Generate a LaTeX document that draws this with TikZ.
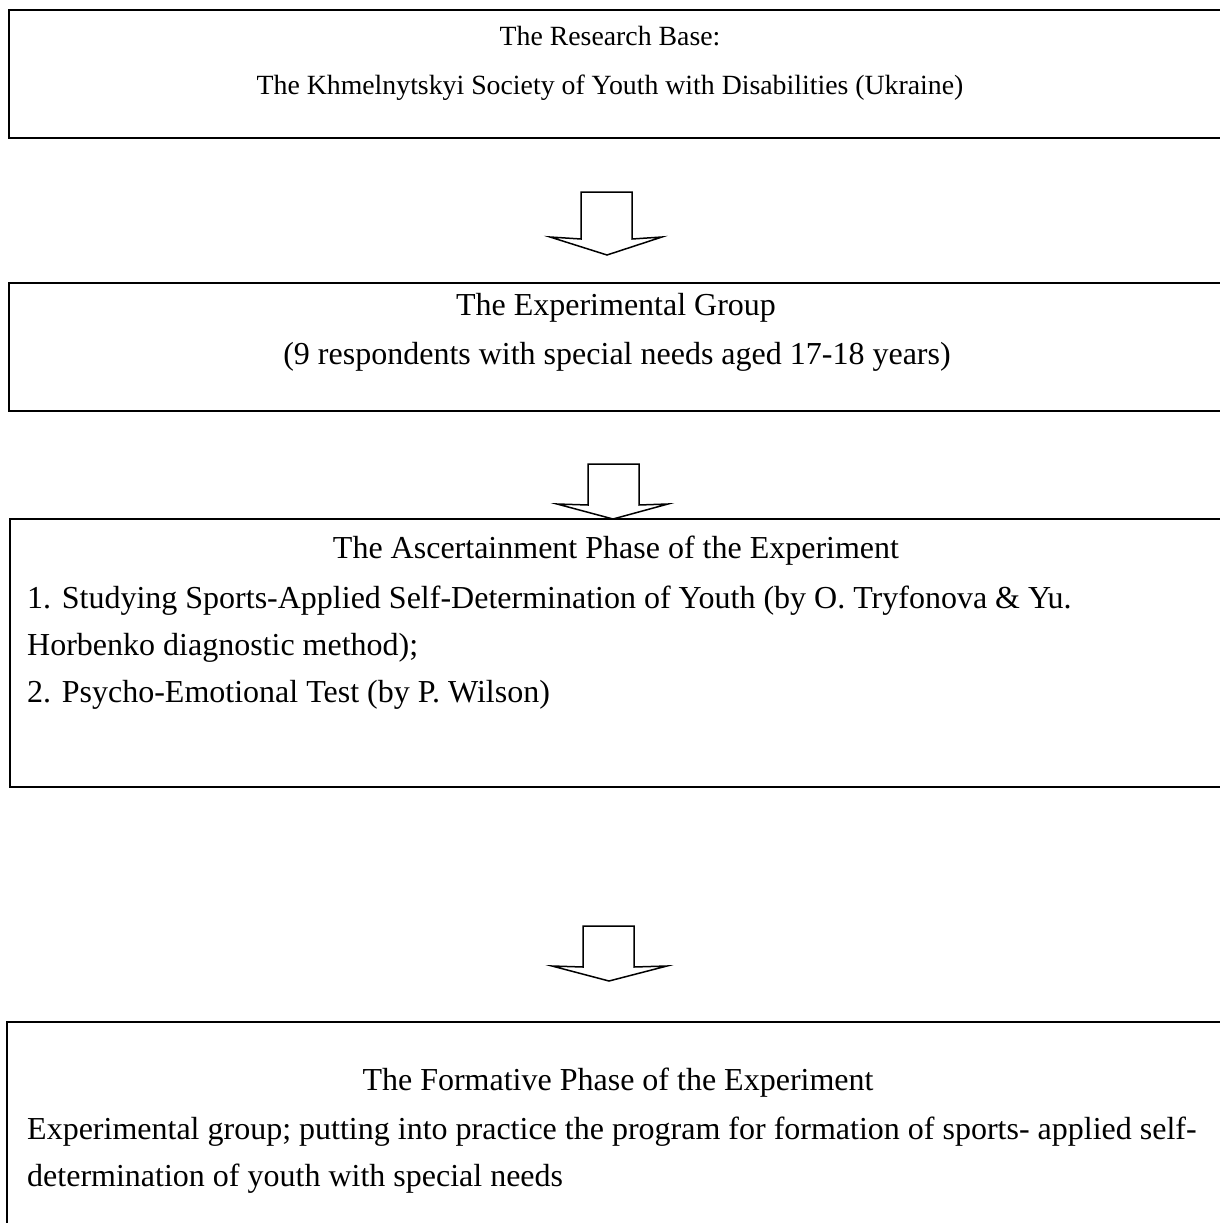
\documentclass[tikz,border=0pt]{standalone}
\usepackage{fontspec}
\setmainfont{Liberation Serif}
\begin{document}
\begin{tikzpicture}[x=1pt,y=-1pt,
  box/.style={draw=black,line width=2pt,rectangle,inner sep=0pt},
  txt/.style={inner sep=0pt,font=\fontsize{32}{55}\selectfont},
  smalltxt/.style={inner sep=0pt,font=\fontsize{27.8}{48}\selectfont,anchor=base},
  ctxt/.style={txt,anchor=base},
  ltxt/.style={txt,anchor=base west},
  blockarrow/.style={draw=black,line width=1.5pt,fill=white,line join=miter}]
\useasboundingbox (0,0) rectangle (1220,1223);
\clip (0,0) rectangle (1220,1223);
\fill[white] (0,0) rectangle (1220,1223);
% boxes
\node[box,minimum width=1231pt,minimum height=128pt] (b1) at (624.5,74) {};
\node[box,minimum width=1231pt,minimum height=128pt] (b2) at (624.5,347) {};
\node[box,minimum width=1230pt,minimum height=268pt] (b3) at (625,653) {};
\node[box,minimum width=1233pt,minimum height=238pt] (b4) at (623.5,1141) {};
% texts
\node[smalltxt] (t1a) at (610,46) {The Research Base:};
\node[smalltxt] (t1b) at (610,95) {The Khmelnytskyi Society of Youth with Disabilities (Ukraine)};
\node[ctxt] (t2a) at (616,315) {The Experimental Group};
\node[ctxt] (t2b) at (617,364) {(9 respondents with special needs aged 17-18 years)};
\node[ctxt] (t3a) at (616,558) {The Ascertainment Phase of the Experiment};
\node[ltxt] (t3b) at (27,608) {1. Studying Sports-Applied Self-Determination of Youth (by O. Tryfonova \& Yu.};
\node[ltxt] (t3c) at (27,655) {Horbenko diagnostic method);};
\node[ltxt] (t3d) at (27,702) {2. Psycho-Emotional Test (by P. Wilson)};
\node[ctxt] (t4a) at (618,1090) {The Formative Phase of the Experiment};
\node[ltxt] (t4b) at (27,1139) {Experimental group; putting into practice the program for formation of sports- applied self-};
\node[ltxt] (t4c) at (27,1186) {determination of youth with special needs};
% block arrows
\coordinate (a1) at (607,255);
\draw[blockarrow] (581,192) -- (632,192) -- (632,239) -- (662,237) -- (a1) -- (550,237) -- (581,239) -- cycle;
\coordinate (a2) at (613,519);
\draw[blockarrow] (588,464) -- (639,464) -- (639,505) -- (668,504) -- (a2) -- (557,504) -- (588,505) -- cycle;
\coordinate (a3) at (609,981);
\draw[blockarrow] (583,926) -- (634,926) -- (634,967) -- (667,966) -- (a3) -- (552,966) -- (583,967) -- cycle;
\end{tikzpicture}
\end{document}
